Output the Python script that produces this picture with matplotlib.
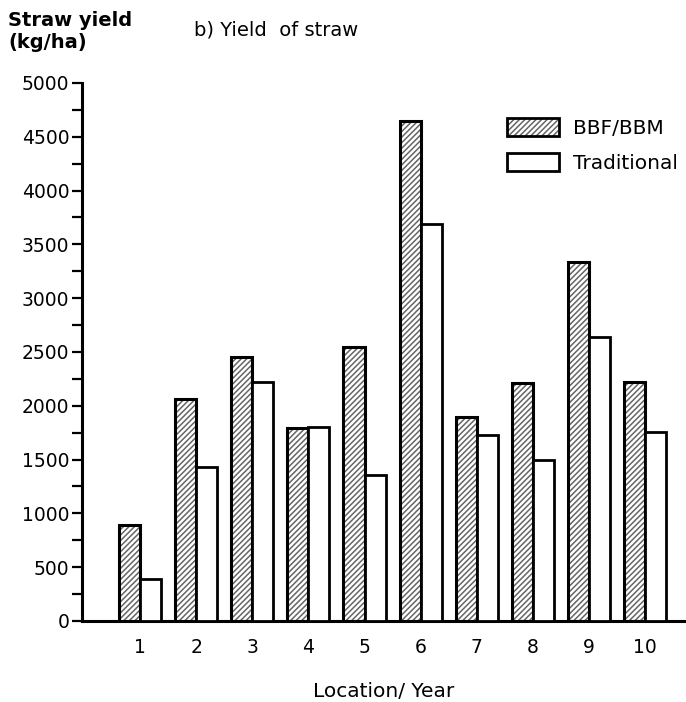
import numpy as np
import matplotlib.pyplot as plt
from matplotlib.legend_handler import HandlerTuple
from matplotlib.patches import Patch

locations = ["1", "2", "3", "4", "5", "6", "7", "8", "9", "10"]
bbf_yield = [890, 2060, 2450, 1790, 2550, 4650, 1900, 2210, 3340, 2220]
trad_yield = [390, 1430, 2220, 1800, 1360, 3690, 1730, 1500, 2640, 1760]
yticks = [0, 500, 1000, 1500, 2000, 2500, 3000, 3500, 4000, 4500, 5000]

plt.rcParams['font.family'] = ['DejaVu Sans']
plt.rcParams['hatch.linewidth'] = 1.1

fig = plt.figure(figsize=(6.86, 7.02), dpi=100)
ax = fig.add_axes([0.1195, 0.1154, 0.8805, 0.7664])

x = np.arange(1, len(locations) + 1)
w = 0.375

# hatch layer in grey, outline layer in black on top
ax.bar(x - w / 2, bbf_yield, w, color='white', edgecolor='#666666',
       hatch='//////', linewidth=0, zorder=2)
ax.bar(x - w / 2, bbf_yield, w, fill=False, edgecolor='black',
       linewidth=2.2, zorder=3)
ax.bar(x + w / 2, trad_yield, w, color='white', edgecolor='black',
       linewidth=2.0, zorder=3)

ax.set_xlim(1 - 1.036, 10.73)
ax.set_ylim(0, 5000)
ax.set_yticks(yticks)
ax.set_yticks(np.arange(250, 5000, 500), minor=True)
ax.set_xticks(x)
ax.set_xticklabels(locations)
ax.tick_params(axis='y', which='both', direction='out', length=7, width=1.6,
               labelsize=13.5, pad=2)
ax.tick_params(axis='x', length=0, labelsize=13.5, pad=12)

for side in ['top', 'right']:
    ax.spines[side].set_visible(False)
ax.spines['left'].set_linewidth(2.2)
ax.spines['bottom'].set_linewidth(2.2)

ax.set_xlabel("Location/ Year", fontsize=14.5, labelpad=18)

fig.text(0.012, 0.955, "Straw yield\n(kg/ha)", fontsize=14, fontweight='bold',
         va='center', ha='left', linespacing=1.25)
fig.text(0.283, 0.957, "b) Yield  of straw", fontsize=14, va='center', ha='left')

h_bbf = (Patch(facecolor='white', edgecolor='#666666', hatch='//////', linewidth=0),
         Patch(fill=False, edgecolor='black', linewidth=2.0))
h_trad = Patch(facecolor='white', edgecolor='black', linewidth=2.0)
ax.legend([h_bbf, h_trad], ["BBF/BBM", "Traditional"],
          handler_map={tuple: HandlerTuple(ndivide=1, pad=0)},
          loc='upper right', bbox_to_anchor=(1.0, 0.95), frameon=False,
          fontsize=14.5, handlelength=2.6, handleheight=1.0,
          handletextpad=0.7, labelspacing=0.75, borderaxespad=0.0)

fig.savefig("out.png", dpi=100)
